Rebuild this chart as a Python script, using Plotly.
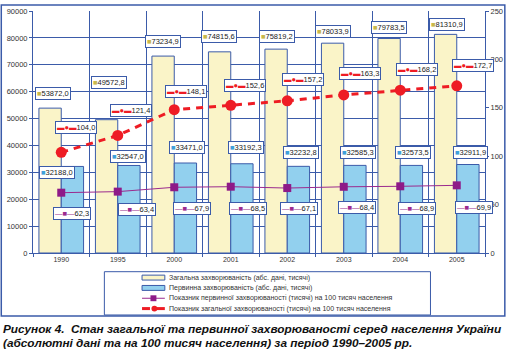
import plotly.graph_objects as go

years = ["1990", "1995", "2000", "2001", "2002", "2003", "2004", "2005"]
general_abs = [53872.0, 49572.8, 73234.9, 74815.6, 75819.2, 78033.9, 79783.5, 81310.9]
primary_abs = [32188.0, 32547.0, 33471.0, 33192.3, 32232.8, 32585.3, 32573.5, 32911.9]
primary_rate = [62.3, 63.4, 67.9, 68.5, 67.1, 68.4, 68.9, 69.9]
general_rate = [104.0, 121.4, 148.1, 152.6, 157.2, 163.3, 168.2, 172.7]

legend_names = [
    "Загальна захворюваність (абс. дані, тисячі)",
    "Первинна захворюваність (абс. дані, тисячі)",
    "Показник первинної захворюваності (тисячі) на 100 тисяч населення",
    "Показник загальної захворюваності (тисячі) на 100 тисяч населення",
]
caption = [
    "Рисунок 4.\u00a0\u00a0Стан загальної та первинної захворюваності серед населення України",
    "(абсолютні дані та на 100 тисяч населення) за період 1990–2005 рр.",
]

W, H = 510, 351
L, R, T, B = 33, 21, 7, 98
PW, PH = W - L - R, H - T - B

YEL = "#FAF4C8"
BLU = "#92D0EE"
EDGE = "#3B5BA9"
PUR = "#9B2A8E"
RED = "#EE1C24"
FONT = "Liberation Sans, Arial, sans-serif"

def px(x):
    return (x - L) / PW

def py(y):
    return (H - B - y) / PH

fig = go.Figure()
fig.add_bar(x=years, y=general_abs, name=legend_names[0], marker=dict(color=YEL, line=dict(color=EDGE, width=1)))
fig.add_bar(x=years, y=primary_abs, name=legend_names[1], marker=dict(color=BLU, line=dict(color=EDGE, width=1)))
fig.add_scatter(x=years, y=primary_rate, yaxis="y2", name=legend_names[2], mode="lines+markers",
                line=dict(color=PUR, width=1), marker=dict(symbol="square", size=8, color="#8E1A88"))
fig.add_scatter(x=years, y=general_rate, yaxis="y2", name=legend_names[3], mode="lines+markers",
                line=dict(color=RED, width=3, dash="7px,6px"), marker=dict(symbol="circle", size=11, color=RED))

def fmt(v):
    return f"{v:.1f}".replace(".", ",")

ann = []
lab_font = dict(family=FONT, size=7.5, color="#222")
def box(i, y, text, yref, xs, ys):
    ann.append(dict(x=i, y=y, xref="x", yref=yref, text=text, showarrow=False, xshift=xs, yshift=ys,
                    font=lab_font, bgcolor="white", bordercolor=EDGE, borderwidth=1, borderpad=1))

yel_xs = [-8.5, -8.5, -11, -11.5, -10.5, -11, -11, -10]
yel_ys = [15, 37, 15, 15, 13, 12, 11, 10]
blu_xs = [-4.5, 10, 13, 15, 14, 14, 13, 14]
blu_ys = [-6, 9, 16, 16, 14, 13, 13, 12]
red_xs = [15, 13, 12, 14, 16, 16.5, 17, 16]
red_ys = [25, 25, 18, 20, 21, 21, 21, 20]
pur_xs = [10.5, 19, 17.5, 17.5, 12, 13, 16.5, 17.5]
pur_ys = [-21, -18, -21, -22, -20, -21, -22, -22]

for i, yr in enumerate(years):
    box(i, general_abs[i], f"<span style='color:#C9B84A'>■</span>{fmt(general_abs[i])}", "y", yel_xs[i], yel_ys[i])
    box(i, primary_abs[i], f"<span style='color:#3FA0DA'>■</span>{fmt(primary_abs[i])}", "y", blu_xs[i], blu_ys[i])
    box(i, general_rate[i], f"<span style='color:{RED}'>▬●▬</span>{fmt(general_rate[i])}", "y2", red_xs[i], red_ys[i])
    box(i, primary_rate[i], f"<span style='color:{PUR}'>—■—</span>{fmt(primary_rate[i])}", "y2", pur_xs[i], pur_ys[i])

shapes = []
shapes.append(dict(type="rect", xref="paper", yref="paper", x0=px(1), x1=px(509), y0=py(317), y1=py(1),
                   line=dict(color=EDGE, width=1.5), layer="below"))
shapes.append(dict(type="rect", xref="paper", yref="paper", x0=px(105), x1=px(434), y0=py(316), y1=py(272),
                   line=dict(color=EDGE, width=1)))
rows = [278, 288.5, 299, 309.5]
sx0, sx1 = 143, 166
for i, ry in enumerate(rows):
    if i < 2:
        shapes.append(dict(type="rect", xref="paper", yref="paper", x0=px(sx0), x1=px(sx1), y0=py(ry + 2.5), y1=py(ry - 2.5),
                           fillcolor=[YEL, BLU][i], line=dict(color=EDGE, width=1)))
    elif i == 2:
        shapes.append(dict(type="line", xref="paper", yref="paper", x0=px(sx0), x1=px(sx1), y0=py(ry), y1=py(ry),
                           line=dict(color=PUR, width=1)))
        shapes.append(dict(type="rect", xref="paper", yref="paper", x0=px(151.5), x1=px(157.5), y0=py(ry + 3), y1=py(ry - 3),
                           fillcolor="#8E1A88", line=dict(width=0)))
    else:
        shapes.append(dict(type="line", xref="paper", yref="paper", x0=px(sx0), x1=px(151), y0=py(ry), y1=py(ry),
                           line=dict(color=RED, width=3)))
        shapes.append(dict(type="line", xref="paper", yref="paper", x0=px(158), x1=px(sx1), y0=py(ry), y1=py(ry),
                           line=dict(color=RED, width=3)))
        shapes.append(dict(type="circle", xref="paper", yref="paper", x0=px(152.5), x1=px(158.5), y0=py(ry + 3), y1=py(ry - 3),
                           fillcolor=RED, line=dict(width=0)))
    ann.append(dict(x=px(168), y=py(ry), xref="paper", yref="paper", text=legend_names[i], showarrow=False,
                    xanchor="left", yanchor="middle", font=dict(family=FONT, size=7, color="#333")))

for i, line in enumerate(caption):
    ann.append(dict(x=px(1), y=py([330, 344][i]), xref="paper", yref="paper", text=f"<b><i>{line}</i></b>",
                    showarrow=False, xanchor="left", yanchor="middle",
                    font=dict(family=FONT, size=11.8, color="#111")))

fig.update_layout(
    width=W, height=H, margin=dict(l=L, r=R, t=T, b=B),
    paper_bgcolor="white", plot_bgcolor="white",
    barmode="group", bargap=0.21, bargroupgap=0,
    showlegend=False,
    font=dict(family=FONT, size=7.5, color="#333"),
    xaxis=dict(type="category", range=[-0.5, len(years) - 0.5], autorange=False,
               tickson="boundaries", showgrid=True, gridcolor=EDGE, gridwidth=1,
               showline=True, linecolor=EDGE, ticks="outside", ticklen=3, tickcolor=EDGE,
               tickfont=dict(size=7), tickangle=0),
    yaxis=dict(range=[0, 90000], autorange=False, dtick=10000, showgrid=True, gridcolor=EDGE, gridwidth=1,
               showline=True, linecolor=EDGE, ticks="outside", ticklen=3, tickcolor=EDGE,
               tickformat="d", zeroline=False, tickfont=dict(size=7.5)),
    yaxis2=dict(range=[0, 250], autorange=False, dtick=50, overlaying="y", side="right", showgrid=False,
                showline=True, linecolor=EDGE, ticks="outside", ticklen=3, tickcolor=EDGE,
                zeroline=False, tickfont=dict(size=7.5)),
    annotations=ann, shapes=shapes,
)

fig.write_html("out.html")
